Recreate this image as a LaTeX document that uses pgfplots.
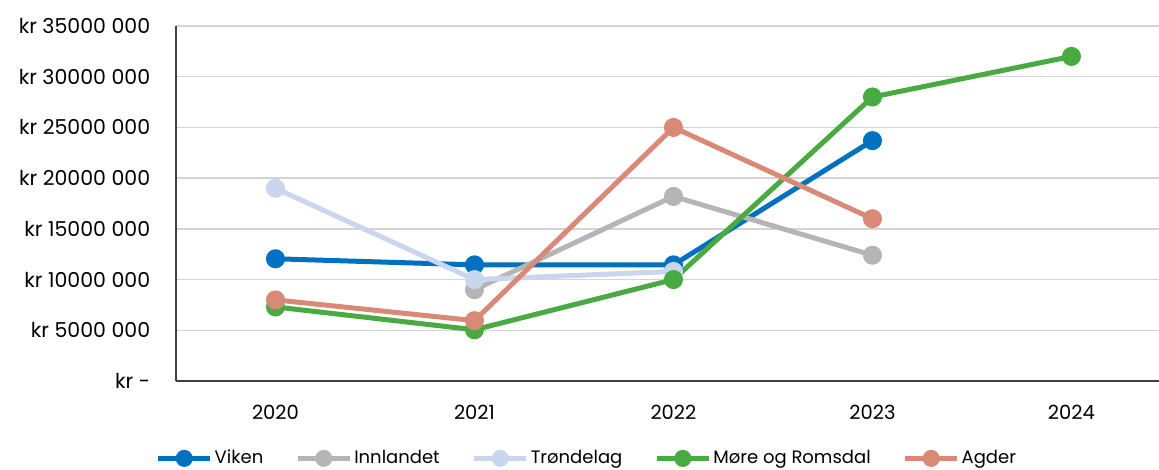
\documentclass[border=0pt]{standalone}
\usepackage{pgfplots}
\pgfplotsset{compat=1.18}
\usetikzlibrary{calc}
\usepackage{fontspec}
\setmainfont{Poppins}
\definecolor{cViken}{HTML}{0070C0}
\definecolor{cInn}{HTML}{B5B5B5}
\definecolor{cTro}{HTML}{CAD6EE}
\definecolor{cMore}{HTML}{4AAA42}
\definecolor{cAgder}{HTML}{D98A76}
\begin{document}
\fontsize{19.5pt}{23pt}\selectfont
\begin{tikzpicture}
\begin{axis}[
  scale only axis, width=983pt, height=355pt,
  xmin=-0.5, xmax=4.44, ymin=0, ymax=35,
  axis lines=left, axis line style={-, draw=black!75, line width=1.3pt},
  xtick={0,1,2,3,4}, xticklabels={2020,2021,2022,2023,2024},
  ytick={0,5,10,15,20,25,30,35},
  yticklabels={kr -\hspace{11pt},kr 5000 000,kr 10000 000,kr 15000 000,kr 20000 000,kr 25000 000,kr 30000 000,kr 35000 000},
  tick style={draw=none},
  yticklabel style={anchor=east, xshift=-17pt, font=\fontsize{20.5pt}{23pt}\selectfont},
  xticklabel style={anchor=north, yshift=-15pt},
  ymajorgrids, grid style={draw=black!17, line width=1.3pt},
  every axis plot/.append style={line width=5pt, mark=*, mark size=7pt},
  legend columns=5,
  legend style={at={(0.418,-0.218)}, anchor=center, draw=none, fill=none,
    /tikz/every even column/.append style={column sep=30pt}, font=\fontsize{18pt}{20pt}\selectfont},
  legend image code/.code={\draw[mark repeat=2, mark phase=2, mark size=6pt, line width=5pt] plot coordinates {(0pt,0pt) (26pt,0pt) (52pt,0pt)};},
  clip=false,
]
\addplot[color=cViken] coordinates {(0,12.05) (1,11.45) (2,11.45) (3,23.7)};
\addlegendentry{Viken}
\addplot[color=cInn] coordinates {(1,9.0) (2,18.2) (3,12.4)};
\addlegendentry{Innlandet}
\addplot[color=cTro] coordinates {(0,19.0) (1,10.0) (2,10.8)};
\addlegendentry{Trøndelag}
\addplot[color=cMore] coordinates {(0,7.3) (1,5.05) (2,10.0) (3,28.0) (4,32.0)};
\addlegendentry{Møre og Romsdal}
\addplot[color=cAgder] coordinates {(0,8.0) (1,5.95) (2,25.0) (3,16.0)};
\addlegendentry{Agder}
\end{axis}
\pgfresetboundingbox
\path ([shift={(-176pt,-88pt)}]current axis.south west) rectangle ([shift={(0pt,26pt)}]current axis.north east);
\end{tikzpicture}
\end{document}
